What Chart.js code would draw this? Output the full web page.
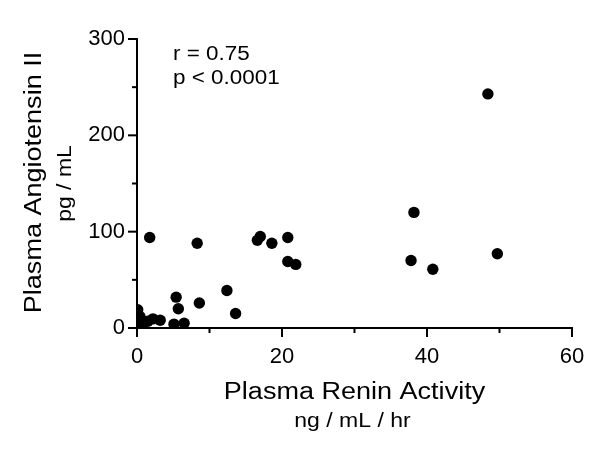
<!DOCTYPE html>
<html>
<head>
<meta charset="utf-8">
<script src="https://cdn.jsdelivr.net/npm/chart.js@4/dist/chart.umd.min.js"></script>
<style>
html,body{margin:0;padding:0;background:#fff;}
#wrap{width:600px;height:452px;}
</style>
</head>
<body>
<div id="wrap"><canvas id="c" width="600" height="452"></canvas></div>
<script>
// Data
const reninActivity = [48.4, 38.2, 49.7, 37.8, 40.8, 1.75, 8.3, 16.6, 17.0, 18.6, 20.8, 20.8, 21.9, 12.4, 13.6, 5.4, 5.7, 8.6, 5.1, 6.5, 0.1, 0.4, 0.5, 0.9, 2.2, 3.2, 1.5, 0.3, 0.7];
const angiotensin = [243, 120, 77, 70, 61, 94, 88, 91, 95, 88, 94, 69, 66, 39, 15, 32, 20, 26, 4, 5, 19, 12, 3, 7, 9.5, 8, 7, 6, 4];
const xTickLabels = [0, 20, 40, 60];
const yTickLabels = [0, 100, 200, 300];
const xTitle = 'Plasma Renin Activity';
const xUnits = 'ng / mL / hr';
const yTitle = 'Plasma Angiotensin II';
const yUnits = 'pg / mL';
const statsText = ['r = 0.75', 'p < 0.0001'];

const FONT = '"Liberation Sans", Arial, Helvetica, sans-serif';
const points = reninActivity.map((x, i) => ({x: x, y: angiotensin[i]}));

function drawStretched(ctx, text, x, y, size, sx, align, rot) {
  ctx.save();
  ctx.translate(x, y);
  if (rot) ctx.rotate(rot);
  ctx.scale(sx, 1);
  ctx.font = size + 'px ' + FONT;
  ctx.fillStyle = '#000';
  ctx.textAlign = align;
  ctx.textBaseline = 'alphabetic';
  ctx.fillText(text, 0, 0);
  ctx.restore();
}

const decor = {
  id: 'decor',
  afterDraw(chart) {
    const ctx = chart.ctx;
    const xs = chart.scales.x, ys = chart.scales.y;
    const a = chart.chartArea;
    ctx.save();
    ctx.strokeStyle = '#000';
    ctx.lineWidth = 2;
    xs.ticks.forEach(t => {
      const px = xs.getPixelForValue(t.value);
      const len = xTickLabels.includes(t.value) ? 9 : 5;
      ctx.beginPath();
      ctx.moveTo(px, a.bottom);
      ctx.lineTo(px, a.bottom + len);
      ctx.stroke();
    });
    ys.ticks.forEach(t => {
      const py = ys.getPixelForValue(t.value);
      const len = yTickLabels.includes(t.value) ? 9 : 5;
      ctx.beginPath();
      ctx.moveTo(a.left, py);
      ctx.lineTo(a.left - len, py);
      ctx.stroke();
    });
    ctx.restore();
    const cx = (a.left + a.right) / 2;
    drawStretched(ctx, xTitle, cx, a.bottom + 71, 23.5, 1.15, 'center', 0);
    drawStretched(ctx, xUnits, cx - 2, a.bottom + 99, 19.5, 1.18, 'center', 0);
    const cy = (a.top + a.bottom) / 2;
    drawStretched(ctx, yTitle, 41, cy - 1, 23.5, 1.15, 'center', -Math.PI / 2);
    drawStretched(ctx, yUnits, 71, cy, 19.5, 1.18, 'center', -Math.PI / 2);
    drawStretched(ctx, statsText[0], a.left + 36, a.top + 21, 19.5, 1.15, 'left', 0);
    drawStretched(ctx, statsText[1], a.left + 36, a.top + 45, 19.5, 1.15, 'left', 0);
  }
};

new Chart(document.getElementById('c'), {
  type: 'scatter',
  data: {
    datasets: [{
      data: points,
      backgroundColor: '#000',
      borderColor: '#000',
      pointRadius: 5.7,
      pointHoverRadius: 5.7,
      borderWidth: 0
    }]
  },
  options: {
    responsive: false,
    animation: false,
    events: [],
    layout: {padding: {left: 0, top: 39, right: 28, bottom: 0}},
    plugins: {legend: {display: false}, tooltip: {enabled: false}, title: {display: false}},
    scales: {
      x: {
        type: 'linear',
        min: 0, max: 60,
        afterFit(s) { s.height = 124; },
        afterBuildTicks(s) { s.ticks = [0,10,20,30,40,50,60].map(v => ({value: v})); },
        grid: {display: false},
        border: {display: true, color: '#000', width: 2},
        ticks: {
          padding: 8,
          color: '#000',
          font: {family: FONT, size: 22},
          maxRotation: 0,
          autoSkip: false,
          callback: v => xTickLabels.includes(v) ? String(v) : ''
        }
      },
      y: {
        type: 'linear',
        min: 0, max: 300,
        afterFit(s) { s.width = 137; },
        afterBuildTicks(s) { s.ticks = [0,50,100,150,200,250,300].map(v => ({value: v})); },
        grid: {display: false},
        border: {display: true, color: '#000', width: 2},
        ticks: {
          padding: 4,
          color: '#000',
          font: {family: FONT, size: 22},
          autoSkip: false,
          callback: v => yTickLabels.includes(v) ? String(v) : ''
        }
      }
    }
  },
  plugins: [decor]
});
</script>
</body>
</html>
